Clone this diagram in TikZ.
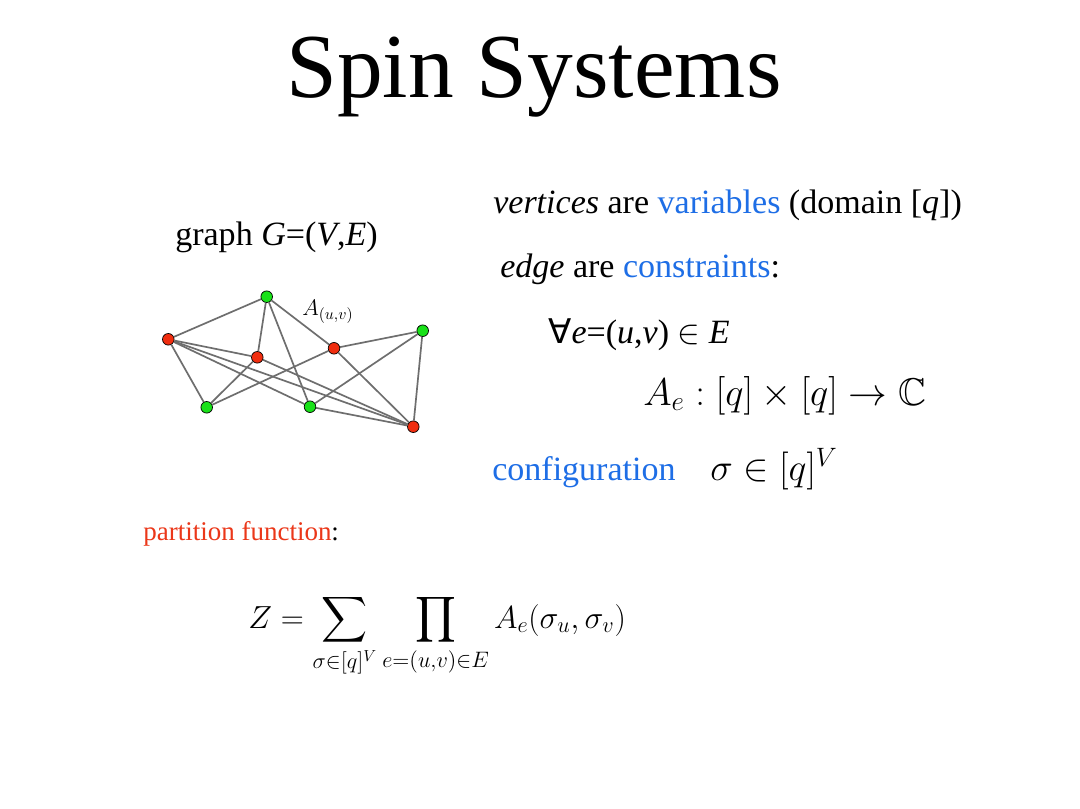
\documentclass[tikz,border=0pt]{standalone}
\usepackage{fix-cm}
\usepackage{amsmath, amssymb}
\usepackage{fontspec}
\setmainfont{Liberation Serif}
\newfontfamily\symfont{DejaVu Sans}
\usetikzlibrary{positioning}

\definecolor{keyblue}{RGB}{30,110,230}
\definecolor{partred}{RGB}{235,55,25}
\definecolor{vred}{RGB}{240,45,15}
\definecolor{vgreen}{RGB}{25,225,25}
\definecolor{edgegray}{RGB}{110,110,110}

\begin{document}
\begin{tikzpicture}[x=0.025cm, y=-0.025cm,
    vtx/.style={circle, draw=black, line width=0.5pt, inner sep=0pt, minimum size=0.29cm},
    redv/.style={vtx, fill=vred},
    greenv/.style={vtx, fill=vgreen},
    txt/.style={anchor=base west, inner sep=0pt, font=\fontsize{24.2}{28}\selectfont}]
    \useasboundingbox[fill=white] (0,0) rectangle (1080,809);

    % Title
    \node[anchor=base, inner sep=0pt, font=\fontsize{65}{70}\selectfont] (title) at (534,97) {Spin Systems};

    % Graph
    \node[txt] (graphlbl) at (175,245) {graph \textit{G}=(\textit{V},\textit{E})};
    \node[greenv] (g1) at (266.7,296.7) {};
    \node[redv] (r1) at (168.3,339.3) {};
    \node[redv] (r2) at (257.3,357.3) {};
    \node[redv] (r3) at (334,348.3) {};
    \node[greenv] (g2) at (422.7,330.7) {};
    \node[greenv] (g3) at (206.7,407.3) {};
    \node[greenv] (g4) at (310,406.7) {};
    \node[redv] (r4) at (413.3,426.7) {};
    \foreach \a/\b in {g1/r1, g1/r2, g1/g4, g1/r3, r1/r2, r1/g3, r1/g4, r1/r4,
                       r2/g3, r2/r4, r3/g3, r3/g2, r3/r4, g2/g4, g2/r4, g4/r4}
        \draw[edgegray, line width=1.2pt] (\a) -- (\b);
    \node[anchor=base west, inner sep=0pt, font=\fontsize{16}{18}\selectfont] (auvlbl) at (302,315) {$A_{(u,v)}$};

    % Variables and constraints
    \node[txt] (vertlbl) at (493,213) {\textit{vertices} are \textcolor{keyblue}{variables} (domain [\textit{q}])};
    \node[txt] (edgelbl) at (500,277) {\textit{edge} are \textcolor{keyblue}{constraints}:};
    \node[txt] (foralllbl) at (548,343) {{\symfont ∀}\textit{e}=(\textit{u},\textit{v}) $\in$ \textit{E}};
    \node[txt, font=\fontsize{27.5}{30}\selectfont] (maplbl) at (643,405) {$A_e : [q] \times [q] \to \mathbb{C}$};
    \node[txt, text=keyblue] (conflbl) at (492,480) {configuration};
    \node[txt, font=\fontsize{27}{30}\selectfont] (confset) at (710,480) {$\sigma \in [q]^V$};

    % Partition function
    \node[txt, font=\fontsize{19.2}{24}\selectfont] (partlbl) at (143,540) {\textcolor{partred}{partition function}:};
    \node[txt, font=\fontsize{22.7}{28}\selectfont] (zformula) at (248,628)
        {$\displaystyle Z = \sum_{\sigma\in[q]^V} \prod_{e=(u,v)\in E} A_e(\sigma_u,\sigma_v)$};
\end{tikzpicture}
\end{document}
